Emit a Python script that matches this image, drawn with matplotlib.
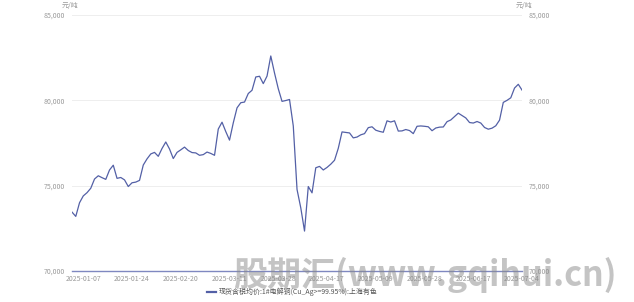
import matplotlib
matplotlib.use("Agg")
import matplotlib.pyplot as plt
from matplotlib.lines import Line2D

plt.rcParams['font.family'] = ['Noto Sans CJK SC', 'DejaVu Sans']

# daily spot price, yuan/ton, one value per trading day (2025-01-02 .. 2025-07-04)
prices = [
    73450, 73200, 74000, 74400, 74590, 74850, 75390, 75580, 75470, 75370,
    75920, 76200, 75430, 75480, 75340, 74950, 75170, 75210, 75310, 76210,
    76570, 76860, 76950, 76720, 77180, 77560, 77150, 76590, 76950, 77100,
    77260, 77060, 76940, 76920, 76780, 76820, 76970, 76890, 76780, 78320,
    78720, 78170, 77670, 78680, 79560, 79860, 79900, 80400, 80590, 81370,
    81410, 80980, 81420, 82600, 81600, 80680, 79940, 79990, 80050, 78500,
    74780, 73700, 72340, 74950, 74580, 76050, 76130, 75920, 76070, 76260,
    76490, 77190, 78150, 78120, 78090, 77800, 77850, 77980, 78050, 78400,
    78450, 78250, 78180, 78130, 78800, 78730, 78800, 78200, 78210, 78290,
    78230, 78050, 78480, 78500, 78480, 78450, 78220, 78380, 78430, 78440,
    78750, 78850, 79050, 79250, 79110, 78970, 78700, 78670, 78760, 78670,
    78410, 78310, 78370, 78510, 78840, 79880, 80000, 80150, 80720, 80940,
    80600,
]
tick_labels = ["2025-01-07", "2025-01-24", "2025-02-20", "2025-03-11",
               "2025-03-28", "2025-04-17", "2025-05-09", "2025-05-28",
               "2025-06-17", "2025-07-04"]
tick_index = [3 + 13 * k for k in range(len(tick_labels))]
y_ticks = [70000, 75000, 80000, 85000]
series_name = "现货含税均价:1#电解铜(Cu_Ag>=99.95%):上海有色"
unit = "元/吨"

line_color = "#5360a6"
grey = "#999999"

fig = plt.figure(figsize=(6.34, 3.02), dpi=100)
ax = fig.add_axes([0.1136, 0.1026, 0.7098, 0.8477])

ax.plot(range(len(prices)), prices, color=line_color, lw=0.9)
ax.set_xlim(0, len(prices) - 1)
ax.set_ylim(70000, 85000)

ax.set_yticks(y_ticks)
ax.set_yticklabels([f"{v:,}" for v in y_ticks])
ax.set_xticks(tick_index)
ax.set_xticklabels(tick_labels)
ax.tick_params(axis='both', length=0, labelsize=5, labelcolor=grey)
ax.tick_params(axis='y', pad=5)
ax.tick_params(axis='x', pad=3)
ax.tick_params(axis='y', right=True, labelright=True)
ax.grid(axis='y', color="#eeeeee", lw=0.7)
ax.set_axisbelow(True)

for side in ["top", "left", "right"]:
    ax.spines[side].set_visible(False)
ax.spines["bottom"].set_color("#7f88c0")
ax.spines["bottom"].set_linewidth(1.0)

fig.text(70 / 634, 1 - 6 / 302, unit, fontsize=5, color=grey,
         ha="center", va="center")
fig.text(524 / 634, 1 - 6 / 302, unit, fontsize=5, color=grey,
         ha="center", va="center")

# legend at the bottom
fig.add_artist(Line2D([207 / 634, 216 / 634], [1 - 292 / 302] * 2,
                      color=line_color, lw=1.6))
fig.text(219 / 634, 1 - 292 / 302, series_name, fontsize=5, color="#555555",
         ha="left", va="center")

# watermark
fig.text(425 / 634, 1 - 275 / 302, "股期汇(www.gqihui.cn)", fontsize=24.5,
         fontweight="bold", color="#8a8a8a", alpha=0.5,
         ha="center", va="center")

fig.savefig("out.png", dpi=100)
